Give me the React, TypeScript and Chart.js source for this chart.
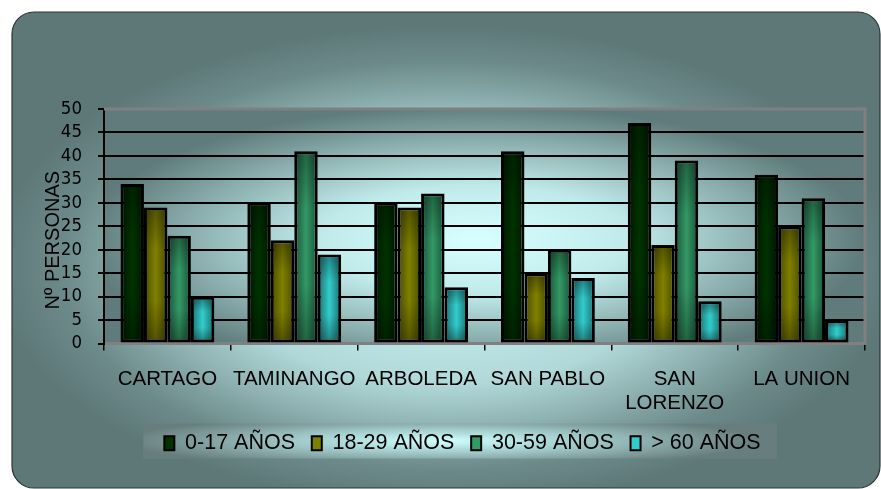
import { useEffect, useRef } from 'react';
import { Chart, registerables } from 'chart.js';

Chart.register(...registerables);

const categories: (string | string[])[] = ['CARTAGO', 'TAMINANGO', 'ARBOLEDA', 'SAN PABLO', ['SAN', 'LORENZO'], 'LA UNION'];
const seriesNames = ['0-17 AÑOS', '18-29 AÑOS', '30-59 AÑOS', '> 60 AÑOS'];
const age0to17 = [34, 30, 30, 41, 47, 36];
const age18to29 = [29, 22, 29, 15, 21, 25];
const age30to59 = [23, 41, 32, 20, 39, 31];
const age60plus = [10, 19, 12, 14, 9, 5];
const yMin = 0;
const yMax = 50;
const yStep = 5;
const yTitle = 'Nº PERSONAS';

const centerColors = ['#003300', '#808000', '#339966', '#33cccc'];
const edgeColors = ['#001600', '#4a4a00', '#1b5238', '#1a6d6d'];

const FONT = "'Liberation Sans', Arial, sans-serif";
const NARROW = "'Liberation Sans Narrow', 'DejaVu Sans Condensed', 'Liberation Sans', sans-serif";

function ellipseFill(
  ctx: CanvasRenderingContext2D,
  cx: number, cy: number, rx: number, ry: number,
  stops: [number, string][],
) {
  ctx.save();
  ctx.translate(cx, cy);
  ctx.scale(1, ry / rx);
  const g = ctx.createRadialGradient(0, 0, 0, 0, 0, rx);
  stops.forEach(([o, c]) => g.addColorStop(o, c));
  ctx.fillStyle = g;
  ctx.fillRect(-5000, -5000, 10000, 10000);
  ctx.restore();
}

const decorPlugin = {
  id: 'decor',
  beforeDraw(chart: any) {
    const ctx: CanvasRenderingContext2D = chart.ctx;
    const ca = chart.chartArea;
    // outer rounded background
    ctx.save();
    ctx.beginPath();
    (ctx as any).roundRect(12, 12, 868, 476, 22);
    ctx.save();
    ctx.clip();
    ellipseFill(ctx, 445, 265, 450, 240, [
      [0, '#d4fafa'], [0.5, '#b0d8d8'], [0.7, '#8aacac'], [0.85, '#6d8a8a'], [1, '#5e7878'],
    ]);
    ctx.restore();
    ctx.lineWidth = 1.2;
    ctx.strokeStyle = '#2a3434';
    ctx.stroke();
    ctx.restore();

    // plot area
    ctx.save();
    ctx.beginPath();
    ctx.rect(ca.left, ca.top, ca.right - ca.left, ca.bottom - ca.top);
    ctx.clip();
    ellipseFill(ctx, 475, 240, 390, 135, [
      [0, '#d8ffff'], [0.4, '#c0eaea'], [0.7, '#90b4b4'], [1, '#5f7b7b'],
    ]);
    ctx.restore();

    // legend box
    const lg = chart.legend;
    if (lg && lg.legendHitBoxes && lg.legendHitBoxes.length) {
      const hb = lg.legendHitBoxes;
      const first = hb[0];
      const last = hb[hb.length - 1];
      const bx = first.left - 21;
      const bw = last.left + last.width + 16 - bx;
      const by = first.top - 9;
      const bh = 35;
      ctx.save();
      ctx.beginPath();
      ctx.rect(bx, by, bw, bh);
      ctx.clip();
      ellipseFill(ctx, bx + bw * 0.47, by + bh / 2, bw * 0.5, bh * 0.75, [
        [0, '#d0ffff'], [0.45, '#a2caca'], [1, '#687e7e'],
      ]);
      ctx.restore();
    }
  },
  beforeDatasetsDraw(chart: any) {
    const ctx: CanvasRenderingContext2D = chart.ctx;
    const ca = chart.chartArea;
    // gray frame top/right
    ctx.save();
    ctx.strokeStyle = '#808080';
    ctx.lineWidth = 3;
    ctx.beginPath();
    ctx.moveTo(ca.left, ca.top);
    ctx.lineTo(ca.right, ca.top);
    ctx.lineTo(ca.right, ca.bottom);
    ctx.stroke();
    ctx.restore();
    // bar gradients
    chart.data.datasets.forEach((_ds: any, di: number) => {
      const meta = chart.getDatasetMeta(di);
      meta.data.forEach((el: any) => {
        const { x, width } = el.getProps(['x', 'width'], true);
        const l = x - width / 2;
        const g = ctx.createLinearGradient(l, 0, l + width, 0);
        g.addColorStop(0, edgeColors[di]);
        g.addColorStop(0.5, centerColors[di]);
        g.addColorStop(1, edgeColors[di]);
        el.options = { ...el.options, backgroundColor: g };
      });
    });
  },
  afterDatasetsDraw(chart: any) {
    const ctx: CanvasRenderingContext2D = chart.ctx;
    // vertical shading inside each bar (rectangular glow look)
    chart.data.datasets.forEach((_ds: any, di: number) => {
      const meta = chart.getDatasetMeta(di);
      meta.data.forEach((el: any) => {
        const { x, y, base, width } = el.getProps(['x', 'y', 'base', 'width'], true);
        const bw = el.options.borderWidth || 0;
        const l = x - width / 2 + bw;
        const t = Math.min(y, base) + bw;
        const w = width - 2 * bw;
        const h = Math.abs(base - y) - 2 * bw;
        if (w <= 0 || h <= 0) return;
        const g = ctx.createLinearGradient(0, t, 0, t + h);
        g.addColorStop(0, 'rgba(0,0,0,0.32)');
        g.addColorStop(0.3, 'rgba(0,0,0,0)');
        g.addColorStop(0.7, 'rgba(0,0,0,0)');
        g.addColorStop(1, 'rgba(0,0,0,0.32)');
        ctx.save();
        ctx.fillStyle = g;
        ctx.fillRect(l, t, w, h);
        ctx.restore();
      });
    });
  },
};

export default function App() {
  const ref = useRef<HTMLCanvasElement | null>(null);
  useEffect(() => {
    if (!ref.current) return;
    const series = [age0to17, age18to29, age30to59, age60plus];
    const chart = new Chart(ref.current, {
      type: 'bar',
      data: {
        labels: categories as any,
        datasets: series.map((d, i) => ({
          label: seriesNames[i],
          data: d,
          backgroundColor: centerColors[i],
          borderColor: '#000',
          borderWidth: 3,
          borderSkipped: false as any,
          categoryPercentage: 0.74,
          barPercentage: 1,
        })),
      },
      options: {
        responsive: false,
        animation: false,
        events: [],
        layout: { padding: { left: 60, right: 16, top: 109, bottom: 25 } },
        plugins: {
          legend: {
            position: 'bottom',
            labels: {
              boxWidth: 10,
              boxHeight: 14,
              padding: 16.75,
              color: '#000',
              font: { family: FONT, size: 21.5 },
              generateLabels: (c: any) =>
                (Chart.defaults.plugins.legend.labels as any).generateLabels(c).map((l: any) => ({
                  ...l,
                  fillStyle: centerColors[l.datasetIndex],
                  strokeStyle: '#000',
                  lineWidth: 2,
                })),
            },
          },
          tooltip: { enabled: false },
        },
        scales: {
          x: {
            afterFit: (s: any) => { s.height = 72.2; },
            grid: { offset: true, drawOnChartArea: false, drawTicks: true, tickLength: 7, color: '#000', lineWidth: 1.5 },
            border: { color: '#808080', width: 3 },
            ticks: { color: '#000', font: { family: FONT, size: 20.5 }, padding: 16, maxRotation: 0, autoSkip: false },
          },
          y: {
            min: yMin,
            max: yMax,
            afterFit: (s: any) => { s.width = 44; },
            ticks: { stepSize: yStep, autoSkip: false, color: '#000', font: { family: NARROW, size: 18.5 }, padding: 16 },
            grid: {
              color: (c: any) => (c.tick && (c.tick.value === yMax || c.tick.value === yMin) ? 'rgba(0,0,0,0)' : '#000'),
              lineWidth: 2,
              tickLength: 6,
              tickColor: '#000',
              tickWidth: 2,
            },
            border: { color: '#000', width: 2 },
            title: {
              display: true,
              text: yTitle + '     ',
              color: '#000',
              font: { family: FONT, size: 20, lineHeight: 1 },
              padding: { top: -17, bottom: 0 },
            },
          },
        },
      } as any,
      plugins: [decorPlugin],
    });
    return () => chart.destroy();
  }, []);
  return (
    <div style={{ position: 'absolute', left: 0, top: 0, width: 881, height: 489 }}>
      <canvas ref={ref} width={881} height={489} style={{ display: 'block' }} />
    </div>
  );
}
